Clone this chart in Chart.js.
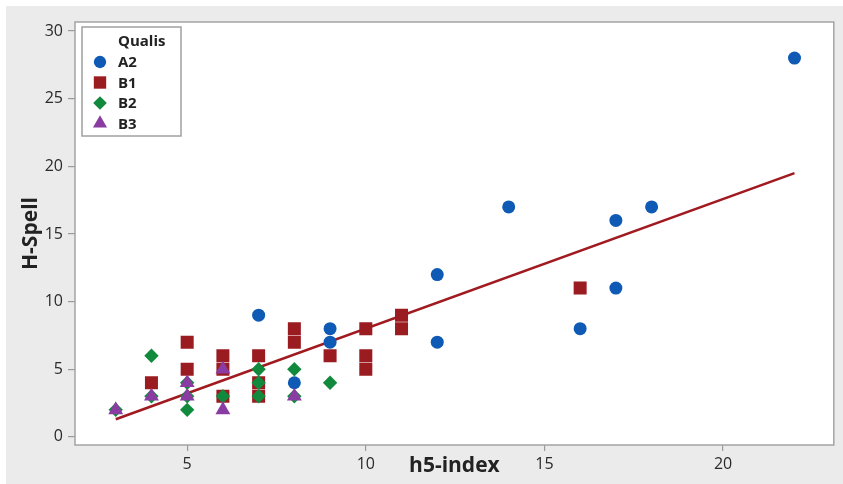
<!DOCTYPE html>
<html>
<head>
<meta charset="utf-8">
<script src="https://cdn.jsdelivr.net/npm/chart.js@4/dist/chart.umd.min.js"></script>
<style>
  html, body { margin: 0; padding: 0; background: #ffffff; }
  #wrap { width: 843px; height: 484px; position: relative; }
  canvas { display: block; }
</style>
</head>
<body>
<div id="wrap"><canvas id="c" width="843" height="484"></canvas></div>
<script>
// ---- Data (h5-index vs H-Spell, by Qualis) ----
const seriesNames = ['A2', 'B1', 'B2', 'B3'];
const legendTitle = 'Qualis';

const a2X = [22, 14, 18, 17, 12, 17, 16, 12, 7, 9, 9, 8];
const a2Y = [28, 17, 17, 16, 12, 11, 8, 7, 9, 8, 7, 4];

const b1X = [4, 5, 5, 6, 6, 6, 7, 7, 7, 8, 8, 9, 10, 10, 10, 11, 11, 16];
const b1Y = [4, 7, 5, 6, 5, 3, 6, 4, 3, 8, 7, 6, 8, 6, 5, 9, 8, 11];

const b2X = [3, 4, 4, 5, 5, 5, 6, 7, 7, 7, 8, 8, 9];
const b2Y = [2, 6, 3, 4, 3, 2, 3, 5, 4, 3, 5, 3, 4];

const b3X = [3, 4, 5, 5, 6, 6, 8];
const b3Y = [2, 3, 4, 3, 5, 2, 3];

// fitted regression line (end points)
const fitX = [3, 22];
const fitY = [1.3, 19.5];

const xTicks = [5, 10, 15, 20];
const yTicks = [0, 5, 10, 15, 20, 25, 30];
const xTitle = 'h5-index';
const yTitle = 'H-Spell';

// ---- styles ----
const colors = { A2: '#0e5ab4', B1: '#9a1b20', B2: '#128a3e', B3: '#8b3ca3', fit: '#a01a20' };
const FONT = '"Open Sans", "Noto Sans", Arial, sans-serif';

function pts(xs, ys) { return xs.map((x, i) => ({ x: x, y: ys[i] })); }

const styleFor = {
  A2: { pointStyle: 'circle', r: 6.5 },
  B1: { pointStyle: 'rect', r: 9.2 },
  B2: { pointStyle: 'rectRot', r: 7.2 },
  B3: { pointStyle: 'triangle', r: 8.6 }
};

const seriesData = { A2: pts(a2X, a2Y), B1: pts(b1X, b1Y), B2: pts(b2X, b2Y), B3: pts(b3X, b3Y) };
const drawOrder = { A2: 4, B1: 3, B2: 2, B3: 1 };

const datasets = seriesNames.map(n => ({
  type: 'scatter',
  label: n,
  data: seriesData[n],
  backgroundColor: colors[n],
  borderColor: colors[n],
  borderWidth: 0,
  pointStyle: styleFor[n].pointStyle,
  pointRadius: styleFor[n].r,
  pointHoverRadius: styleFor[n].r,
  order: drawOrder[n]
}));
datasets.push({
  type: 'line',
  label: 'fit',
  data: pts(fitX, fitY),
  borderColor: colors.fit,
  borderWidth: 2.6,
  pointRadius: 0,
  fill: false,
  tension: 0,
  order: 10
});

const bgPlugin = {
  id: 'bg',
  beforeDraw(chart) {
    const { ctx, chartArea: a } = chart;
    ctx.save();
    ctx.fillStyle = '#ffffff';
    ctx.fillRect(0, 0, chart.width, chart.height);
    ctx.fillStyle = '#ebebeb';
    ctx.fillRect(6, 6, chart.width - 6, chart.height - 6);
    ctx.fillStyle = '#ffffff';
    ctx.fillRect(a.left, a.top, a.right - a.left, a.bottom - a.top);
    ctx.restore();
  },
  afterDraw(chart) {
    const { ctx, chartArea: a } = chart;
    ctx.save();
    ctx.strokeStyle = '#a4a4a4';
    ctx.lineWidth = 1.5;
    ctx.strokeRect(a.left, a.top, a.right - a.left, a.bottom - a.top);
    ctx.restore();
  }
};

const legendPlugin = {
  id: 'insideLegend',
  afterDraw(chart) {
    const { ctx, chartArea: a } = chart;
    const bx = a.left + 7, by = a.top + 5, bw = 99, bh = 109;
    ctx.save();
    ctx.fillStyle = '#ffffff';
    ctx.fillRect(bx, by, bw, bh);
    ctx.strokeStyle = '#a0a0a0';
    ctx.lineWidth = 1.5;
    ctx.strokeRect(bx, by, bw, bh);
    ctx.fillStyle = '#222222';
    ctx.font = 'bold 15px ' + FONT;
    ctx.textBaseline = 'middle';
    ctx.textAlign = 'left';
    ctx.fillText(legendTitle, bx + 36, by + 15);
    seriesNames.forEach((n, i) => {
      const y = by + 35 + i * 20.5;
      const mx = bx + 18;
      ctx.fillStyle = colors[n];
      ctx.strokeStyle = colors[n];
      Chart.helpers.drawPoint(ctx, { pointStyle: styleFor[n].pointStyle, radius: styleFor[n].r * 0.95, rotation: 0, borderWidth: 0 }, mx, y);
      ctx.fillStyle = '#222222';
      ctx.fillText(n, bx + 36, y + 1);
    });
    ctx.restore();
  }
};

new Chart(document.getElementById('c'), {
  data: { datasets: datasets },
  options: {
    responsive: false,
    animation: false,
    events: [],
    layout: { padding: { left: 0, right: 3, top: 22, bottom: 0 } },
    plugins: { legend: { display: false }, tooltip: { enabled: false } },
    scales: {
      x: {
        type: 'linear',
        min: 1.86,
        max: 23.1,
        afterFit(s) { s.height = 39; },
        afterBuildTicks(s) { s.ticks = xTicks.map(v => ({ value: v })); },
        grid: { display: true, drawOnChartArea: false, drawTicks: true, tickLength: 6, color: '#9a9a9a', lineWidth: 1.2 },
        border: { display: false },
        ticks: { color: '#2a2a2a', font: { family: FONT, size: 16 }, padding: 4, autoSkip: false, maxRotation: 0 },
        title: { display: true, text: xTitle, color: '#222222', font: { family: FONT, size: 21, weight: 'bold' }, padding: { top: 0, bottom: 5 } }
      },
      y: {
        type: 'linear',
        min: -0.6,
        max: 30.67,
        afterFit(s) { s.width = 75; },
        afterBuildTicks(s) { s.ticks = yTicks.map(v => ({ value: v })); },
        grid: { display: true, drawOnChartArea: false, drawTicks: true, tickLength: 7, color: '#9a9a9a', lineWidth: 1.2 },
        border: { display: false },
        ticks: { color: '#2a2a2a', font: { family: FONT, size: 16 }, padding: 5, autoSkip: false },
        title: { display: true, text: yTitle, color: '#222222', font: { family: FONT, size: 21, weight: 'bold' }, padding: { top: 18, bottom: 0 } }
      }
    }
  },
  plugins: [bgPlugin, legendPlugin]
});
</script>
</body>
</html>
